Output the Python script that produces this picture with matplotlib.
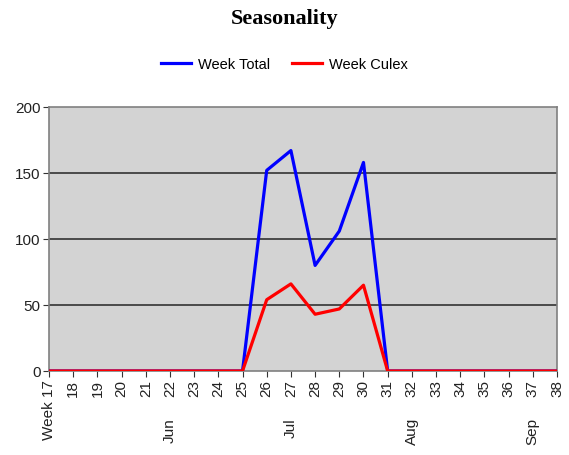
import matplotlib
matplotlib.use("Agg")
import matplotlib.pyplot as plt
from matplotlib.transforms import blended_transform_factory

weeks = list(range(17, 39))
week_labels = ["Week 17"] + [str(w) for w in weeks[1:]]
week_total = [0, 0, 0, 0, 0, 0, 0, 0, 0, 152, 167, 80, 106, 158, 0, 0, 0, 0, 0, 0, 0, 0]
week_culex = [0, 0, 0, 0, 0, 0, 0, 0, 0, 54, 66, 43, 47, 65, 0, 0, 0, 0, 0, 0, 0, 0]
month_weeks = [22, 27, 32, 37]
month_names = ["Jun", "Jul", "Aug", "Sep"]
y_ticks = [0, 50, 100, 150, 200]

plt.rcParams['font.family'] = ['Liberation Sans', 'DejaVu Sans']
fig = plt.figure(figsize=(5.69, 4.56), dpi=100)
ax = fig.add_axes([49/569, 84/456, 508/569, 264/456])
ax.set_facecolor('#d3d3d3')

ax.plot(weeks, week_total, color='#0000ff', lw=2.3, label='Week Total', zorder=3)
ax.plot(weeks, week_culex, color='#ff0000', lw=2.3, label='Week Culex', zorder=4)

ax.set_xlim(weeks[0], weeks[-1])
ax.set_ylim(0, 200)
ax.set_yticks(y_ticks)
ax.set_yticklabels([str(v) for v in y_ticks], fontsize=11, color='#222222')
ax.set_xticks(weeks)
ax.set_xticklabels(week_labels, rotation=90, fontsize=11, color='#222222')
for v in y_ticks[1:-1]:
    ax.axhline(v, color='#333333', lw=1.2, zorder=1)
ax.tick_params(axis='both', direction='out', length=4, color='#333333', pad=2)
for s in ['left', 'bottom', 'top', 'right']:
    ax.spines[s].set_color('#808080')
    ax.spines[s].set_linewidth(1.2)

trans = blended_transform_factory(ax.transData, fig.transFigure)
for w, m in zip(month_weeks, month_names):
    ax.text(w, 1 - 418/456, m, rotation=90, ha='center', va='top', fontsize=11,
            color='#222222', transform=trans)

fig.text(0.5, 1 - 19/456, 'Seasonality', ha='center', va='center', fontsize=16,
         fontweight='bold', family='Liberation Serif')
fig.legend(loc='center', bbox_to_anchor=(0.5, 1 - 65/456), ncol=2, frameon=False,
           fontsize=10.5, handlelength=2.05, handletextpad=0.5, columnspacing=1.5)

fig.savefig('out.png', dpi=100)
